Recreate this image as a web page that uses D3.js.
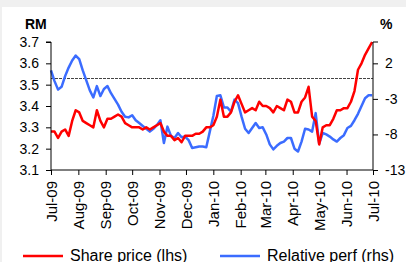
<!DOCTYPE html>
<html>
<head>
<meta charset="utf-8">
<script src="https://cdn.jsdelivr.net/npm/d3@7"></script>
<style>
  body { margin: 0; background: #f0f0f0; }
  #frame { position: absolute; left: 2px; top: 7px; width: 404px; height: 255px; background: #fff; }
  svg { position: absolute; left: 0; top: 0; font-family: "Liberation Sans", Arial, sans-serif; }
</style>
</head>
<body>
<div id="frame"></div>
<svg id="chart" width="406" height="262"></svg>
<script>
// share price (RM, left axis) sampled every 4 days from 1 Jul 2009
const sharePrice = [
  3.28, 3.28, 3.25, 3.28, 3.29, 3.26, 3.33, 3.38, 3.37, 3.33,
  3.32, 3.31, 3.30, 3.38, 3.33, 3.30, 3.34, 3.34, 3.35, 3.36,
  3.35, 3.32, 3.31, 3.30, 3.30, 3.30, 3.29, 3.30, 3.29, 3.30,
  3.31, 3.32, 3.28, 3.26, 3.26, 3.24, 3.25, 3.23, 3.26, 3.26,
  3.26, 3.27, 3.27, 3.28, 3.30, 3.30, 3.31, 3.35, 3.43, 3.35,
  3.35, 3.37, 3.42, 3.45, 3.41, 3.37, 3.38, 3.39, 3.38, 3.42,
  3.40, 3.40, 3.39, 3.37, 3.40, 3.39, 3.38, 3.43, 3.42, 3.37,
  3.37, 3.42, 3.44, 3.49, 3.35, 3.33, 3.22, 3.30, 3.31, 3.31,
  3.34, 3.38, 3.38, 3.39, 3.39, 3.42, 3.47, 3.57, 3.60, 3.64,
  3.67, 3.70
]
// relative performance (%, right axis)
const relPerf = [
  1.0, -0.5, -1.7, -1.3, 0.2, 1.4, 2.4, 3.1, 2.6, 1.0,
  -0.4, -1.8, -2.8, -1.2, -2.6, -1.6, -1.2, -2.2, -3.0, -3.8,
  -4.8, -5.5, -5.6, -5.3, -6.0, -6.4, -6.8, -7.2, -7.6, -7.2,
  -6.7, -6.0, -9.2, -6.9, -8.2, -8.5, -7.8, -8.4, -8.3, -8.8,
  -9.9, -9.8, -9.7, -9.7, -9.8, -7.6, -5.4, -2.6, -2.5, -4.2,
  -4.2, -4.8, -3.1, -3.6, -5.5, -7.2, -7.8, -7.1, -6.4, -7.1,
  -7.0, -8.0, -9.4, -10.1, -9.6, -9.2, -9.0, -8.5, -8.5, -10.0,
  -10.4, -9.0, -7.2, -7.3, -7.6, -5.0, -9.3, -7.8, -8.0, -8.3,
  -8.7, -9.0, -8.5, -8.1, -7.1, -6.8, -6.0, -5.1, -4.0, -2.9,
  -2.5, -2.5
]
const leftTicks = [3.1, 3.2, 3.3, 3.4, 3.5, 3.6, 3.7]
const rightTicks = [-13, -8, -3, 2]
const seriesNames = ["Share price (lhs)", "Relative perf (rhs)"]
const seriesColors = ["#ff0000", "#3b6cff"]

const START = new Date(2009, 6, 1)
const END = new Date(2010, 6, 1)
const dates = sharePrice.map((d, i) => d3.timeDay.offset(START, 4 * i))

const PLOT = { left: 51, right: 373, top: 42, bottom: 170 }

const svg = d3.select("#chart")

const x = d3.scaleTime().domain([START, END]).range([PLOT.left, PLOT.right])
const yL = d3.scaleLinear().domain([3.1, 3.7]).range([PLOT.bottom, PLOT.top])
const yR = d3.scaleLinear().domain([-13, 5]).range([PLOT.bottom, PLOT.top])

// zero line of relative perf
svg.append("line")
  .attr("x1", PLOT.left).attr("x2", PLOT.right)
  .attr("y1", Math.round(yR(0)) + 0.5).attr("y2", Math.round(yR(0)) + 0.5)
  .attr("stroke", "#444").attr("stroke-width", 1)
  .attr("stroke-dasharray", "3,1")

const lineL = d3.line().x((d, i) => x(dates[i])).y(d => yL(d))
const lineR = d3.line().x((d, i) => x(dates[i])).y(d => yR(d))

svg.append("path").datum(relPerf)
  .attr("d", lineR).attr("fill", "none")
  .attr("stroke", seriesColors[1]).attr("stroke-width", 2.5)
  .attr("stroke-linejoin", "round")

svg.append("path").datum(sharePrice)
  .attr("d", lineL).attr("fill", "none")
  .attr("stroke", seriesColors[0]).attr("stroke-width", 2.5)
  .attr("stroke-linejoin", "round")

// axes
const leftAxis = svg.append("g")
  .attr("transform", `translate(${PLOT.left},0)`)
  .call(d3.axisLeft(yL).tickValues(leftTicks).tickFormat(d3.format(".1f")).tickSize(5).tickPadding(7))

const rightAxis = svg.append("g")
  .attr("transform", `translate(${PLOT.right},0)`)
  .call(d3.axisRight(yR).tickValues(rightTicks).tickFormat(d => String(d)).tickSize(5).tickPadding(7))

const bottomAxis = svg.append("g")
  .attr("transform", `translate(0,${PLOT.bottom})`)
  .call(d3.axisBottom(x).ticks(d3.timeMonth.every(1)).tickFormat(d3.timeFormat("%b-%y")).tickSize(5))

bottomAxis.selectAll("text")
  .attr("transform", "rotate(-90)")
  .attr("text-anchor", "end")
  .attr("x", -11).attr("y", 0).attr("dy", "0.35em")

svg.selectAll(".domain").attr("stroke", "#000")
svg.selectAll(".tick line").attr("stroke", "#000")
leftAxis.selectAll("text").attr("font-size", 14).attr("fill", "#000")
rightAxis.selectAll("text").attr("font-size", 14).attr("fill", "#000")
bottomAxis.selectAll("text").attr("font-size", 15).attr("fill", "#000")
leftAxis.select(".domain").attr("d", `M-5,${PLOT.top}H0V${PLOT.bottom}`)
rightAxis.select(".domain").attr("d", `M5,${PLOT.top}H0V${PLOT.bottom}`)
bottomAxis.select(".domain").attr("d", `M${PLOT.left},0H${PLOT.right}`)

// unit labels
svg.append("text").attr("x", 25).attr("y", 29)
  .attr("font-size", 14).attr("font-weight", "bold").text("RM")
svg.append("text").attr("x", 380).attr("y", 29)
  .attr("font-size", 14).attr("font-weight", "bold").text("%")

// legend
const legend = svg.append("g")
seriesNames.forEach((name, i) => {
  const lx = i === 0 ? 23 : 220
  legend.append("line")
    .attr("x1", lx).attr("x2", lx + 40)
    .attr("y1", 256).attr("y2", 256)
    .attr("stroke", seriesColors[i]).attr("stroke-width", 2.5)
  legend.append("text")
    .attr("x", lx + 47).attr("y", 261)
    .attr("font-size", 16).text(name)
})
</script>
</body>
</html>
